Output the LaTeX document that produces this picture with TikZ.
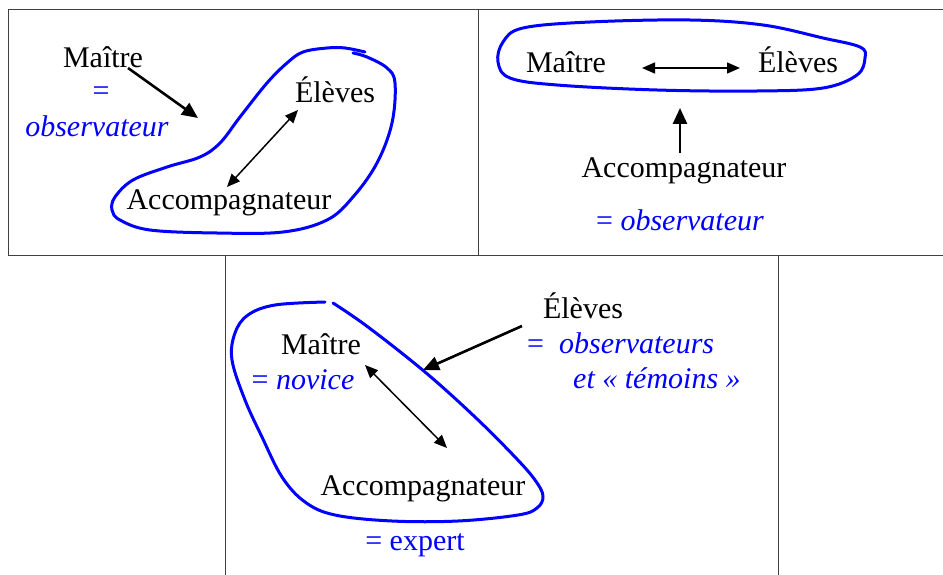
\documentclass[tikz,border=0pt]{standalone}
\usepackage{fontspec}
\setmainfont{Liberation Serif}
\usetikzlibrary{arrows.meta}

\begin{document}
\begin{tikzpicture}[x=1pt, y=-1pt,
        word/.style={inner sep=0pt, anchor=base, font=\fontsize{30}{36}\selectfont},
        role/.style={word, text=blue},
        frame/.style={draw=black!75, line width=1pt},
        group/.style={draw=blue, line width=3pt, line cap=round, line join=round},
        push/.style={line width=2.6pt, -{Triangle[length=16pt,width=14pt]}},
        link/.style={line width=1.5pt, {Triangle[length=13pt,width=11pt]}-{Triangle[length=13pt,width=11pt]}}]
        \useasboundingbox (0,0) rectangle (943,575);

        % frames
        \draw[frame] (943,10) -- (8,10) -- (8,255) -- (943,255);
        \draw[frame] (478,10) -- (478,255);
        \draw[frame] (225,255) -- (225,575);
        \draw[frame] (778,255) -- (778,575);

        % top left: maitre = observateur
        \node[word] (M1) at (103,68) {Maître};
        \node[role] (M1eq) at (101,101) {=};
        \node[role] (M1obs) at (97,137) {\textit{observateur}};
        \node[word] (E1) at (335,103) {Élèves};
        \node[word] (A1) at (229,209) {Accompagnateur};

        \coordinate (m1) at (128,68);
        \coordinate (g1) at (198,118);
        \coordinate (e1) at (298,110);
        \coordinate (a1) at (227,187);

        \draw[group] plot[smooth, tension=0.6] coordinates {(365,52) (345,48) (327,48) (303,52) (287,63) (267,83) (240,117) (220,143) (200,157) (167,167) (133,180) (115,197) (112,210) (120,220) (150,230) (217,233) (283,232) (327,220) (353,197) (377,163) (392,123) (395,83) (387,68) (367,57) (353,53)};

        \path [push] (m1) edge (g1);
        \path [link] (a1) edge (e1);

        % top right: accompagnateur = observateur
        \node[word] (M2) at (566,73) {Maître};
        \node[word] (E2) at (798,73) {Élèves};
        \node[word] (A2) at (684,178) {Accompagnateur};
        \node[role] (A2obs) at (680,230) {= \textit{observateur}};

        \coordinate (m2) at (642,68);
        \coordinate (e2) at (740,68);
        \coordinate (a2) at (680,153);
        \coordinate (g2) at (680,108);

        \draw[group] plot[smooth cycle, tension=0.6] coordinates {(498,62) (503,42) (523,28) (590,22) (690,20) (763,25) (823,38) (860,47) (865,58) (857,75) (823,88) (757,91) (657,90) (557,85) (510,78)};

        \path [link] (m2) edge (e2);
        \path [push] (a2) edge (g2);

        % bottom: eleves = observateurs et temoins
        \node[word] (M3) at (321,354) {Maître};
        \node[role] (M3nov) at (303,389) {= \textit{novice}};
        \node[word] (A3) at (423,495) {Accompagnateur};
        \node[role] (A3exp) at (415,550) {= expert};
        \node[word] (E3) at (583,318) {Élèves};
        \node[role, anchor=base west] (E3obs) at (527,353) {=~~\textit{observateurs}};
        \node[role, anchor=base west] (E3tem) at (573,388) {\textit{et~«~témoins~»}};

        \coordinate (e3) at (522,326);
        \coordinate (g3) at (423,370);
        \coordinate (m3) at (365,365);
        \coordinate (a3) at (447,448);

        \draw[group] plot[smooth, tension=0.6] coordinates {(325,302) (275,305) (248,315) (235,333) (232,360) (245,400) (262,437) (282,477) (305,502) (335,515) (392,521) (458,521) (518,515) (537,508) (543,496) (535,480) (515,457) (475,417) (425,372) (368,327) (333,303)};

        \path [push] (e3) edge (g3);
        \path [link] (m3) edge (a3);
    \end{tikzpicture}
\end{document}
